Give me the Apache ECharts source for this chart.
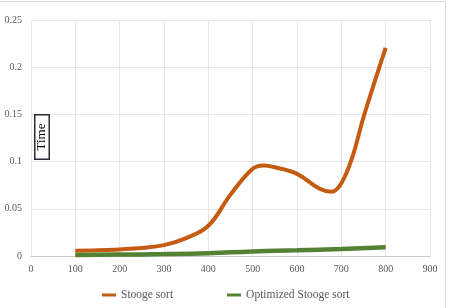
<!DOCTYPE html>
<html>
<head>
<meta charset="utf-8">
<script src="https://cdn.jsdelivr.net/npm/echarts@6/dist/echarts.min.js"></script>
<style>html,body{margin:0;padding:0;background:#fff}#c{width:449px;height:308px}</style>
</head>
<body>
<div id="c"></div>
<script>
var stoogeSizes = [100, 150, 200, 250, 300, 350, 400, 450, 500, 525, 550, 600, 650, 678, 700, 725, 750, 800];
var stoogeSort = [0.0055, 0.006, 0.007, 0.0085, 0.0115, 0.019, 0.032, 0.065, 0.0925, 0.096, 0.094, 0.087, 0.0715, 0.068, 0.077, 0.105, 0.147, 0.2205];
var optSizes = [100, 200, 300, 400, 500, 600, 700, 800];
var optimizedStoogeSort = [0.001, 0.0015, 0.002, 0.003, 0.0048, 0.006, 0.0075, 0.0092];
var seriesNames = ['Stooge sort', 'Optimized Stooge sort'];
var yAxisTitle = 'Time';

function pairs(xs, ys) { return xs.map(function (x, i) { return [x, ys[i]]; }); }

var font = 'Liberation Serif';
var chart = echarts.init(document.getElementById('c'), null, { renderer: 'canvas' });
chart.setOption({
  animation: false,
  backgroundColor: '#fff',
  grid: { left: 31, right: 19, top: 20, bottom: 52, containLabel: false },
  xAxis: {
    type: 'value', min: 0, max: 900, interval: 100,
    axisLine: { show: true, lineStyle: { color: '#c8c8c8', width: 1 } },
    axisTick: { show: false },
    splitLine: { show: true, lineStyle: { color: '#e6e6e6', width: 1 } },
    axisLabel: { color: '#595959', fontFamily: font, fontSize: 10, margin: 8 }
  },
  yAxis: {
    type: 'value', min: 0, max: 0.25, interval: 0.05,
    axisLine: { show: false },
    axisTick: { show: false },
    splitLine: { show: true, lineStyle: { color: '#e6e6e6', width: 1 } },
    axisLabel: { color: '#595959', fontFamily: font, fontSize: 10, margin: 9 }
  },
  legend: {
    bottom: 2, left: 97, itemGap: 54, itemWidth: 14, itemHeight: 3,
    textStyle: { color: '#595959', fontFamily: font, fontSize: 11.5 },
    data: [{ name: seriesNames[0], icon: 'rect' }, { name: seriesNames[1], icon: 'rect' }]
  },
  series: [
    {
      name: seriesNames[0], type: 'line', smooth: 0.4, showSymbol: false,
      data: pairs(stoogeSizes, stoogeSort),
      lineStyle: { color: '#c55a11', width: 4 }, itemStyle: { color: '#c55a11' }
    },
    {
      name: seriesNames[1], type: 'line', smooth: 0.5, showSymbol: false,
      data: pairs(optSizes, optimizedStoogeSort),
      lineStyle: { color: '#548235', width: 4.5 }, itemStyle: { color: '#548235' }
    }
  ],
  graphic: [
    { type: 'line', shape: { x1: 0, y1: 1.5, x2: 445.5, y2: 1.5 }, style: { stroke: '#d9d9d9', lineWidth: 1 }, silent: true },
    { type: 'line', shape: { x1: 445.5, y1: 1.5, x2: 445.5, y2: 308 }, style: { stroke: '#d9d9d9', lineWidth: 1 }, silent: true },
    {
      type: 'text', x: 42, y: 137, rotation: Math.PI / 2, z: 100,
      style: {
        text: yAxisTitle, font: '13px "Liberation Serif"', fill: '#000',
        align: 'center', verticalAlign: 'middle',
        borderColor: '#2b2b3a', borderWidth: 1.5, padding: [0, 8, 0, 8], backgroundColor: '#fff'
      }
    }
  ]
});
</script>
</body>
</html>
